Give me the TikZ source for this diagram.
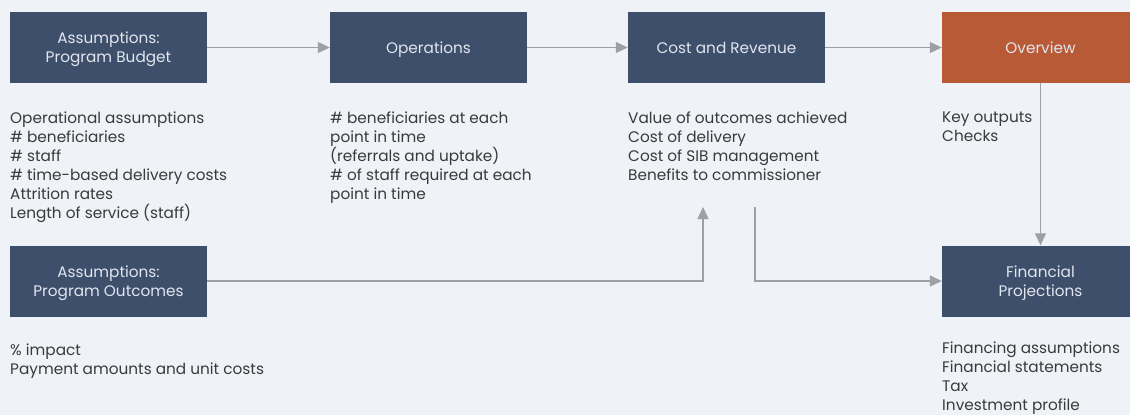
\documentclass[tikz,border=0pt]{standalone}
\usepackage{fontspec}
\setmainfont{Poppins}
\usetikzlibrary{arrows.meta}
\definecolor{bg}{HTML}{EFF2F7}
\definecolor{navy}{HTML}{3D4F6B}
\definecolor{rust}{HTML}{B95A36}
\definecolor{boxtxt}{HTML}{E2E6EE}
\definecolor{bodytxt}{HTML}{3A3A3A}
\definecolor{arrowgray}{HTML}{9EA0A4}
\tikzset{
  box/.style={fill=navy, draw=none, minimum width=197pt, minimum height=71pt, inner sep=0pt},
  obox/.style={box, fill=rust},
  lab/.style={inner sep=0pt, align=center, text=boxtxt, yshift=-2pt,
    font=\fontsize{15.3}{19}\selectfont},
  labone/.style={lab, text height=11.3pt, text depth=3.8pt},
  body/.style={anchor=north west, inner sep=0pt, align=left, text=bodytxt,
    font=\fontsize{15.3}{19}\selectfont},
  conn/.style={draw=arrowgray, line width=1.2pt, -{Triangle[length=12pt,width=11pt]}}
}
\begin{document}
\begin{tikzpicture}[x=1pt,y=-1pt]
\useasboundingbox (0,0) rectangle (1130,415);
\clip (0,0) rectangle (1130,415);
\fill[bg] (0,0) rectangle (1130,415);
% boxes
\node[box, label={[lab]center:{Assumptions:\\Program Budget}}] (b1) at (108.5,47.5) {};
\node[box, label={[labone]center:{Operations}}] (ops) at (428.5,47.5) {};
\node[box, label={[labone]center:{Cost and Revenue}}] (cr) at (726.5,47.5) {};
\node[obox, label={[labone]center:{Overview}}] (ov) at (1040.5,47.5) {};
\node[box, label={[lab]center:{Assumptions:\\Program Outcomes}}] (outc) at (108.5,281) {};
\node[box, label={[lab]center:{Financial\\Projections}}] (fin) at (1040.5,281) {};
% body texts
\node[body] (t1) at (10,112) {Operational assumptions\\\# beneficiaries\\\# staff\\\# time-based delivery costs\\Attrition rates\\Length of service (staff)};
\node[body] (t2) at (330,112) {\# beneficiaries at each\\point in time\\(referrals and uptake)\\\# of staff required at each\\point in time};
\node[body] (t3) at (628,112) {Value of outcomes achieved\\Cost of delivery\\Cost of SIB management\\Benefits to commissioner};
\node[body] (t4) at (942,112) {Key outputs\\Checks};
\node[body] (t5) at (10,344) {\% impact\\Payment amounts and unit costs};
\node[body] (t6) at (942,342) {Financing assumptions\\Financial statements\\Tax\\Investment profile};
% connectors
\coordinate (up) at (703,207);
\coordinate (dn) at (755,207);
\draw[conn] (b1.east) -- (ops.west);
\draw[conn] (ops.east) -- (cr.west);
\draw[conn] (cr.east) -- (ov.west);
\draw[conn] (ov.south) -- (fin.north);
\draw[conn] (outc.east) -| (up);
\draw[conn] (dn) |- (fin.west);
\end{tikzpicture}
\end{document}
